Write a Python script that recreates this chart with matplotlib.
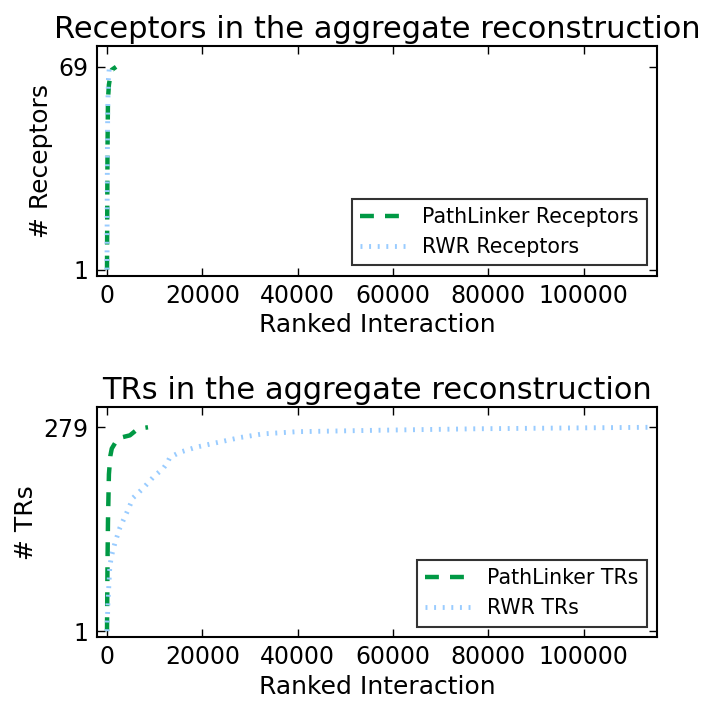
import matplotlib
matplotlib.use('Agg')
import matplotlib.pyplot as plt

# cumulative receptors / TRs found vs. rank of interaction
pl_rec_x = [0, 50, 100, 200, 400, 700, 1000, 1900]
pl_rec_y = [1, 20, 40, 58, 63, 66, 68, 69]
rwr_rec_x = [0, 30, 80, 150, 300, 500]
rwr_rec_y = [1, 20, 40, 55, 65, 69]

pl_tr_x = [0, 100, 200, 400, 700, 1000, 2300, 4800, 6500, 8600]
pl_tr_y = [1, 90, 150, 215, 240, 250, 264, 268, 277, 279]
rwr_tr_x = [0, 200, 600, 1000, 1700, 2700, 4100, 5500, 7600, 9700, 11800,
            12600, 13200, 15300, 18800, 23700, 27900, 32700, 39900, 57300,
            78000, 114000]
rwr_tr_y = [1, 40, 90, 105, 122, 142, 162, 183, 196, 211, 223,
            230, 238, 245, 252, 259, 265, 270, 273, 275, 277, 279]

xticks = [0, 20000, 40000, 60000, 80000, 100000]

plt.rcParams['lines.scale_dashes'] = False
plt.rcParams['font.family'] = 'DejaVu Sans'

green = '#009944'
blue = '#99ccff'

fig, (ax1, ax2) = plt.subplots(2, 1, figsize=(7.01, 7.02), dpi=100)
fig.subplots_adjust(left=97/701, right=657/701, top=1-46/702, bottom=1-637/702, hspace=0.575)


def draw(ax, px, py, rx, ry, name, ymax, ylim):
    ax.plot(px, py, color=green, lw=3.2, ls=(0, (10, 8)), label='PathLinker ' + name)
    ax.plot(rx, ry, color=blue, lw=3.5, ls=(0, (1.4, 4.8)), label='RWR ' + name)
    ax.set_xlim(-2100, 115400)
    ax.set_ylim(*ylim)
    ax.set_xticks(xticks)
    ax.set_yticks([1, ymax])
    ax.tick_params(direction='in', top=True, right=True, length=6, width=1,
                   labelsize=17, pad=6)
    for s in ax.spines.values():
        s.set_linewidth(1.5)
    ax.set_xlabel('Ranked Interaction', fontsize=18)
    ax.set_ylabel('# ' + name, fontsize=18)
    ax.set_title(name + ' in the aggregate reconstruction', fontsize=22)
    leg = ax.legend(loc='lower right', fontsize=14.8, fancybox=False,
                    handlelength=2.2, borderaxespad=0.5)
    leg.get_frame().set_edgecolor('black')
    leg.get_frame().set_linewidth(1.5)


draw(ax1, pl_rec_x, pl_rec_y, rwr_rec_x, rwr_rec_y, 'Receptors', 69, (-1, 76))
draw(ax2, pl_tr_x, pl_tr_y, rwr_tr_x, rwr_tr_y, 'TRs', 279, (-7, 306))

plt.savefig('out.png', dpi=100)
